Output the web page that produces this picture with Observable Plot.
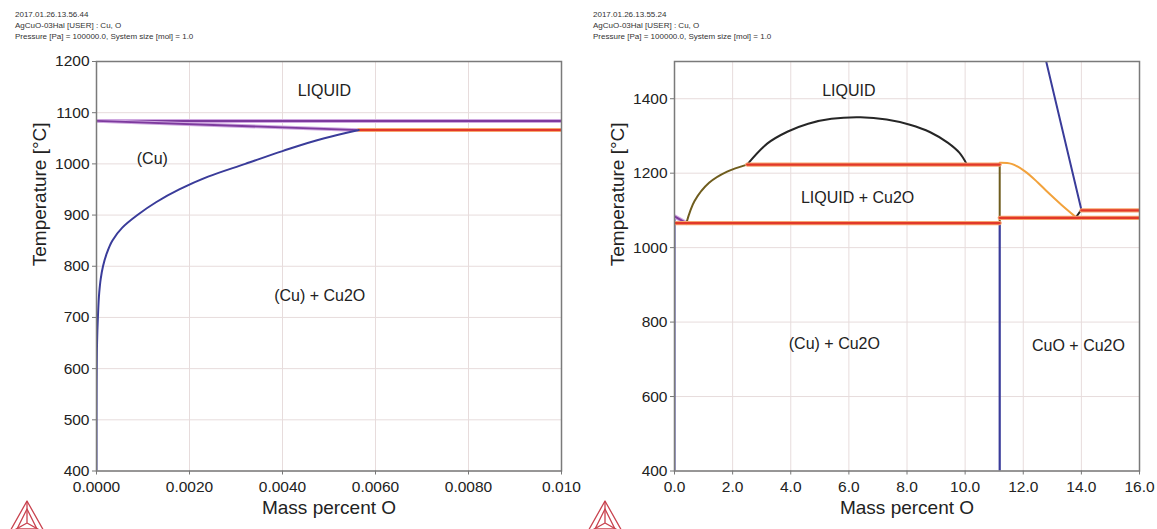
<!DOCTYPE html>
<html><head><meta charset="utf-8">
<script src="https://cdn.jsdelivr.net/npm/d3@7"></script>
<script src="https://cdn.jsdelivr.net/npm/@observablehq/plot@0.6"></script>
<style>
body{margin:0;background:#fff;width:1157px;height:529px;overflow:hidden;position:relative;font-family:"Liberation Sans",Arial,sans-serif}
.panel{position:absolute;top:0;width:578px;height:529px}
.panel svg.plot{position:absolute;left:0;top:0}
.hdr{position:absolute;left:15px;top:9px;font-size:8px;line-height:11px;color:#333;white-space:nowrap;z-index:2}
.logo{position:absolute;left:7px;top:499px;z-index:2}
</style></head><body>
<div class="panel" id="p1" style="left:0"></div>
<div class="panel" id="p2" style="left:578px"></div>
<script>
// ---------- header texts ----------
const headerLeft = ["2017.01.26.13.56.44", "AgCuO-03Hal [USER] : Cu, O", "Pressure [Pa] = 100000.0, System size [mol] = 1.0"];
const headerRight = ["2017.01.26.13.55.24", "AgCuO-03Hal [USER] : Cu, O", "Pressure [Pa] = 100000.0, System size [mol] = 1.0"];
const xTitle = "Mass percent O";
const yTitle = "Temperature [°C]";

// ---------- left panel (Cu-rich corner) ----------
const leftXTicks = [0, 0.002, 0.004, 0.006, 0.008, 0.010];
const leftXTickLabels = ["0.0000", "0.0020", "0.0040", "0.0060", "0.0080", "0.010"];
const leftYTicks = [400, 500, 600, 700, 800, 900, 1000, 1100, 1200];
// solvus of (Cu)
const leftSolvusX = [0, 0.0000005, 0.000002, 0.000005, 0.000012, 0.00003, 0.00006, 0.00009, 0.00014, 0.00022, 0.00034, 0.00055, 0.00088, 0.00128, 0.00178, 0.0024, 0.0032, 0.0040, 0.0049, 0.00564];
const leftSolvusT = [400, 500, 550, 600, 650, 700, 750, 775, 800, 825, 850, 875, 900, 925, 950, 975, 1000, 1025, 1050, 1066];
// Cu melting line and liquidus/solidus
const leftMeltX = [0, 0.010];
const leftMeltT = [1084, 1084];
const leftSolidusX = [0, 0.00564];
const leftSolidusT = [1084, 1066];
const leftEutecticX = [0.00564, 0.010];
const leftEutecticT = [1066, 1066];
const leftLabels = ["LIQUID", "(Cu)", "(Cu) + Cu2O"];
const leftLabelX = [0.0049, 0.0012, 0.0048];
const leftLabelT = [1143, 1010, 742];

// ---------- right panel (Cu–O up to 16 %) ----------
const rightXTicks = [0, 2, 4, 6, 8, 10, 12, 14, 16];
const rightXTickLabels = ["0.0", "2.0", "4.0", "6.0", "8.0", "10.0", "12.0", "14.0", "16.0"];
const rightYTicks = [400, 600, 800, 1000, 1200, 1400];
const cuSideX = [0, 0];
const cuSideT = [400, 1084];
const cuLiquidusX = [0, 0.41];
const cuLiquidusT = [1084, 1066];
const liquidusX = [0.41, 0.69, 1.19, 1.81, 2.5];
const liquidusT = [1066, 1125, 1174, 1204, 1223];
const domeX = [2.5, 3.2, 3.9, 4.6, 5.4, 6.4, 7.3, 8.1, 8.8, 9.4, 9.8, 10.05];
const domeT = [1223, 1280, 1312, 1333, 1346, 1350, 1344, 1330, 1310, 1282, 1255, 1225];
const monotecticX = [2.5, 11.19];
const monotecticT = [1223, 1223];
const eutecticX = [0, 11.19];
const eutecticT = [1066, 1066];
const cu2oUpperX = [11.19, 11.19];
const cu2oUpperT = [1066, 1223];
const cu2oLowerX = [11.19, 11.19];
const cu2oLowerT = [400, 1066];
const cu2oLiquidusX = [11.19, 11.6, 12.06, 12.5, 12.8, 13.3, 13.81];
const cu2oLiquidusT = [1228, 1225, 1205, 1175, 1152, 1116, 1082];
const eutectic2X = [11.19, 16];
const eutectic2T = [1080, 1080];
const peritecticX = [14.0, 16];
const peritecticT = [1100, 1100];
const shortX = [13.81, 14.0];
const shortT = [1081, 1102];
const cuoLiquidusX = [12.79, 14.0];
const cuoLiquidusT = [1500, 1102];
const rightLabels = ["LIQUID", "LIQUID + Cu2O", "(Cu) + Cu2O", "CuO + Cu2O"];
const rightLabelX = [6.0, 6.3, 5.5, 13.9];
const rightLabelT = [1421, 1134, 742, 736];

// ---------- helpers ----------
const pts = (xs, ts) => xs.map((x, i) => ({x, t: ts[i]}));
const COL = {
  blue: "#3a3c9a", purple: "#7d3a9e", purpleHalo: "#cfa8e0",
  red: "#e2382a", redHalo: "#f6a56e", black: "#262626", olive: "#6f5d1e", orange: "#f2a23c"
};
function line(xs, ts, color, w = 2, halo = null, curve = "catmull-rom") {
  const d = pts(xs, ts);
  const out = [];
  if (halo) out.push(Plot.line(d, {x: "x", y: "t", stroke: halo, strokeWidth: w + 2, clip: true}));
  out.push(Plot.line(d, {x: "x", y: "t", stroke: color, strokeWidth: w, clip: true, curve}));
  return out;
}
function panel({xDomain, yDomain, xTicks, xTickLabels, yTicks, marks, labels, labelX, labelT}) {
  const fmt = new Map(xTicks.map((v, i) => [v, xTickLabels[i]]));
  const svg = Plot.plot({
    width: 578, height: 529,
    marginTop: 61, marginBottom: 58.5, marginLeft: 96, marginRight: 17,
    style: {fontFamily: "'Liberation Sans', Arial, sans-serif", background: "transparent", overflow: "visible", color: "#222"},
    x: {domain: xDomain},
    y: {domain: yDomain},
    marks: [
      Plot.gridX(xTicks, {stroke: "#e7dcdc", strokeOpacity: 1}),
      Plot.gridY(yTicks, {stroke: "#e7dcdc", strokeOpacity: 1}),
      ...marks,
      Plot.text(labels.map((s, i) => ({s, x: labelX[i], t: labelT[i]})), {x: "x", y: "t", text: "s", fontSize: 16, fill: "#222"}),
      Plot.frame({stroke: "#7a7a7a", strokeWidth: 1.5}),
      Plot.axisX(xTicks, {tickFormat: d => fmt.get(d), tickSize: 4, tickPadding: 6, fontSize: 15.5, label: null, stroke: "#777"}),
      Plot.axisY(yTicks, {tickFormat: d => String(d), tickSize: 4, tickPadding: 3, fontSize: 15.5, label: null, stroke: "#777"}),
      Plot.text([xTitle], {text: d => d, frameAnchor: "bottom", dy: 42.5, fontSize: 19, fill: "#222"}),
      Plot.text([yTitle], {text: d => d, frameAnchor: "left", dx: -57, rotate: -90, fontSize: 19, fill: "#222"})
    ]
  });
  svg.classList.add("plot");
  return svg;
}

const leftMarks = [
  ...line(leftMeltX, leftMeltT, COL.purple, 2, COL.purpleHalo),
  ...line(leftSolidusX, leftSolidusT, COL.purple, 1.8, COL.purpleHalo),
  ...line(leftEutecticX, leftEutecticT, COL.red, 2, COL.redHalo),
  ...line(leftSolvusX, leftSolvusT, COL.blue, 2, null, "monotone-y")
];
const rightMarks = [
  ...line(cuSideX, cuSideT, COL.blue, 2),
  ...line(cu2oLowerX, cu2oLowerT, COL.blue, 2.2),
  ...line(cuLiquidusX, cuLiquidusT, COL.purple, 2, COL.purpleHalo),
  ...line(liquidusX, liquidusT, COL.olive, 2),
  ...line(domeX, domeT, COL.black, 2),
  ...line(cu2oUpperX, cu2oUpperT, COL.olive, 2),
  ...line(cu2oLiquidusX, cu2oLiquidusT, COL.orange, 2),
  ...line(cuoLiquidusX, cuoLiquidusT, COL.blue, 2),
  ...line(shortX, shortT, COL.black, 2),
  ...line(monotecticX, monotecticT, COL.red, 2.2, COL.redHalo),
  ...line(eutecticX, eutecticT, COL.red, 2.2, COL.redHalo),
  ...line(eutectic2X, eutectic2T, COL.red, 2.2, COL.redHalo),
  ...line(peritecticX, peritecticT, COL.red, 2.2, COL.redHalo)
];

const logoSvg = `<svg class="logo" width="42" height="32" viewBox="0 0 42 32">
<g fill="none" stroke="#c9434f" stroke-width="1.3" stroke-linejoin="round">
<path d="M20,2 L2,34 L38,34 Z"/>
<path d="M20,2 L20,24 M2,34 L20,24 L38,34"/>
<path d="M20,10 L10,30 L30,30 Z"/>
</g></svg>`;

function build(id, header, cfg) {
  const el = document.getElementById(id);
  el.appendChild(panel(cfg));
  const h = document.createElement("div");
  h.className = "hdr";
  h.innerHTML = header.join("<br>");
  el.appendChild(h);
  el.insertAdjacentHTML("beforeend", logoSvg);
}

build("p1", headerLeft, {
  xDomain: [0, 0.010], yDomain: [400, 1200],
  xTicks: leftXTicks, xTickLabels: leftXTickLabels, yTicks: leftYTicks,
  marks: leftMarks, labels: leftLabels, labelX: leftLabelX, labelT: leftLabelT
});
build("p2", headerRight, {
  xDomain: [0, 16], yDomain: [400, 1500],
  xTicks: rightXTicks, xTickLabels: rightXTickLabels, yTicks: rightYTicks,
  marks: rightMarks, labels: rightLabels, labelX: rightLabelX, labelT: rightLabelT
});
</script>
</body></html>
